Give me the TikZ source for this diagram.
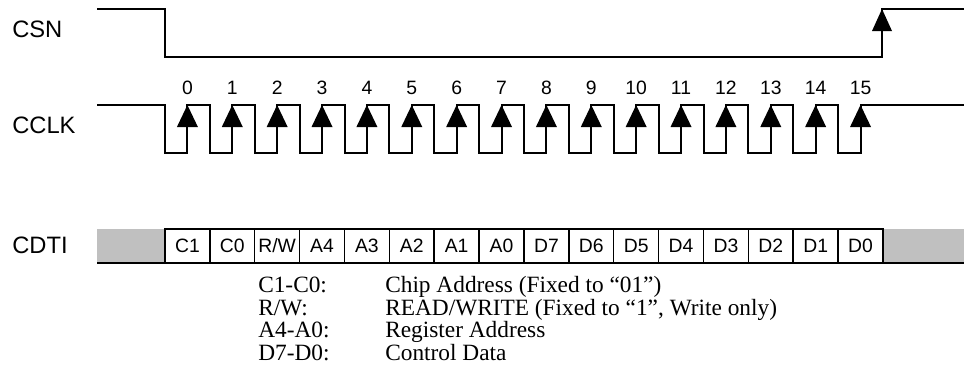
\documentclass[tikz,border=0pt]{standalone}
\usepackage{fontspec}
\setmainfont{Liberation Serif}
\newfontfamily\arialfont{Liberation Sans}
\definecolor{cdtigray}{RGB}{192,192,192}
\begin{document}
\begin{tikzpicture}[x=0.75pt,y=-0.75pt,
  wave/.style={line width=1.5pt, line join=miter},
  sig/.style={font=\arialfont\fontsize{17.8}{20}\selectfont, anchor=base west, inner sep=0},
  num/.style={font=\arialfont\fontsize{14.5}{17}\selectfont, anchor=base, inner sep=0},
  bitbox/.style={draw, line width=1.1pt, minimum width=33.66pt, minimum height=25.5pt, inner sep=0,
    font=\arialfont\fontsize{14.5}{17}\selectfont},
  leg/.style={font=\fontsize{17.5}{20}\selectfont, anchor=base west, inner sep=0},
  tip/.style={fill=black}]
\useasboundingbox (0,0) rectangle (964,383);
% signal names
\node[sig] (lcsn) at (12,37) {CSN};
\node[sig] (lcclk) at (12,133.5) {CCLK};
\node[sig] (lcdti) at (12,253) {CDTI};
% CSN waveform
\draw[wave] (97,9) -- (165,9) -- (165,57) -- (882,57) -- (882,9) -- (964,9);
\fill[tip] (882,9) -- (872,31) -- (892,31) -- cycle;
% CCLK waveform
\draw[wave] (97,105) \foreach \k in {0,...,15}{
   -- ({165+44.875*\k},105) -- ({165+44.875*\k},153)
   -- ({187.4+44.875*\k},153) -- ({187.4+44.875*\k},105)} -- (964,105);
\foreach \k in {0,...,15}{
  \fill[tip] ({187.4+44.875*\k},105) -- ({176.9+44.875*\k},127) -- ({197.9+44.875*\k},127) -- cycle;
  \node[num] (n\k) at ({187.4+44.875*\k},94) {\k};
}
% CDTI
\fill[cdtigray] (97,229) rectangle (165,263);
\fill[cdtigray] (883,229) rectangle (964,263);
\foreach \lab [count=\k from 0] in {C1,C0,R/W,A4,A3,A2,A1,A0,D7,D6,D5,D4,D3,D2,D1,D0}{
  \node[bitbox] (b\k) at ({187.4+44.875*\k},246) {\lab};
}
\draw[line width=1.8pt] (97,263) -- (964,263);
% legend
\node[leg] (k1) at (258,292.5) {C1-C0:};
\node[leg] (v1) at (385,292.5) {Chip Address (Fixed to “01”)};
\node[leg] (k2) at (258,315) {R/W:};
\node[leg] (v2) at (385,315) {READ/WRITE (Fixed to “1”, Write only)};
\node[leg] (k3) at (258,337.5) {A4-A0:};
\node[leg] (v3) at (385,337.5) {Register Address};
\node[leg] (k4) at (258,360) {D7-D0:};
\node[leg] (v4) at (385,360) {Control Data};
\end{tikzpicture}
\end{document}
